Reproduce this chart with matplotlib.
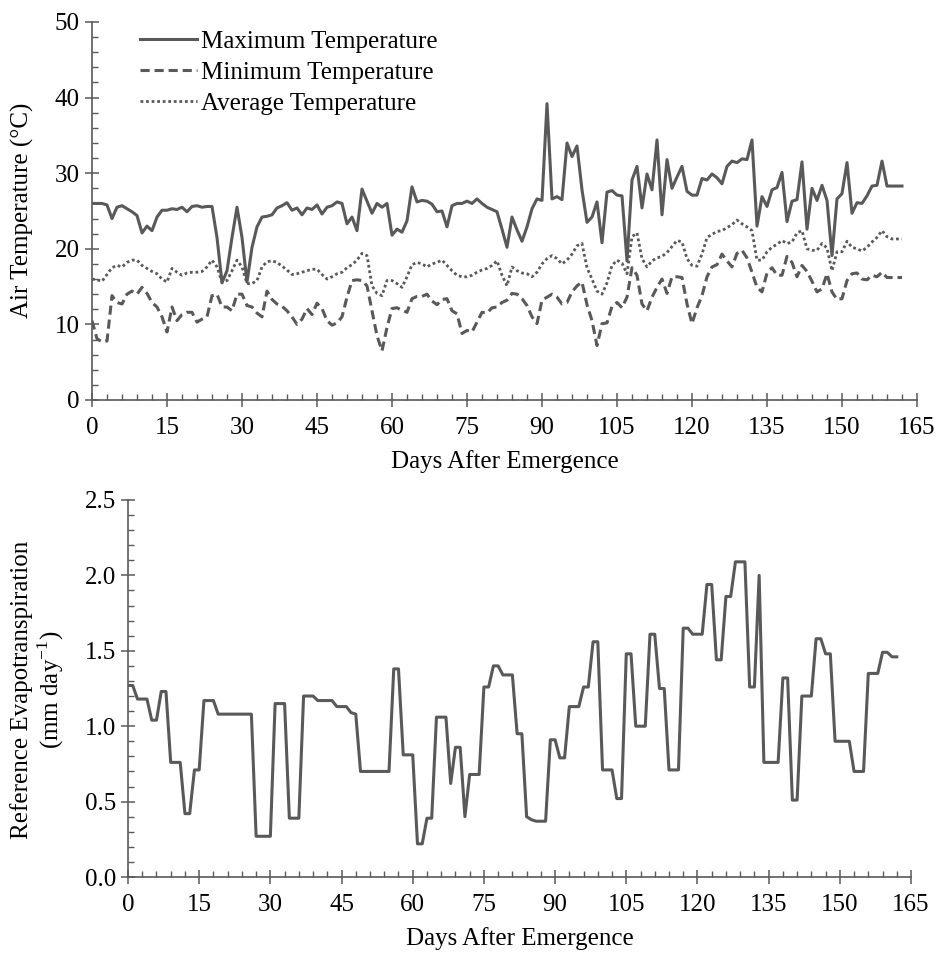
import matplotlib
matplotlib.use("Agg")
import matplotlib.pyplot as plt
from matplotlib.ticker import MultipleLocator, FormatStrFormatter

plt.rcParams['font.family'] = ['Liberation Serif', 'DejaVu Serif']
plt.rcParams['mathtext.fontset'] = 'custom'
plt.rcParams['mathtext.rm'] = 'Liberation Serif'

days = list(range(0, 163))

t_max = [26.0, 26.0, 26.0, 25.8, 24.0, 25.5, 25.7, 25.3, 24.9, 24.4,
         22.1, 23.0, 22.4, 24.2, 25.1, 25.1, 25.3, 25.2, 25.5, 24.9,
         25.6, 25.7, 25.5, 25.6, 25.6, 21.5, 15.5, 17.1, 21.5, 25.5,
         21.5, 15.6, 20.2, 22.9, 24.2, 24.3, 24.5, 25.4, 25.7, 26.1,
         25.1, 25.4, 24.5, 25.4, 25.2, 25.8, 24.6, 25.5, 25.7, 26.2,
         26.0, 23.3, 24.2, 22.4, 27.9, 26.3, 24.7, 26.0, 25.5, 26.0,
         21.8, 22.6, 22.2, 23.7, 28.2, 26.2, 26.4, 26.3, 25.9, 24.9,
         25.0, 22.9, 25.7, 26.0, 26.0, 26.3, 26.0, 26.6, 26.0, 25.5,
         25.2, 24.9, 22.6, 20.2, 24.2, 22.5, 21.0, 22.9, 25.3, 26.6,
         26.4, 39.2, 26.6, 26.9, 26.5, 34.0, 32.2, 33.6, 27.8, 23.5,
         24.2, 26.2, 20.8, 27.5, 27.7, 27.1, 27.0, 18.4, 29.1, 30.9,
         25.4, 29.9, 27.8, 34.4, 24.5, 31.8, 28.0, 29.5, 30.9, 27.6,
         27.1, 27.1, 29.3, 29.1, 29.9, 29.4, 28.6, 30.9, 31.6, 31.4,
         31.9, 31.8, 34.4, 23.0, 26.9, 25.6, 27.8, 28.1, 30.1, 23.6,
         26.3, 26.5, 31.5, 22.6, 28.0, 26.4, 28.4, 26.4, 19.1, 26.6,
         27.3, 31.4, 24.7, 26.1, 26.0, 27.0, 28.3, 28.4, 31.6, 28.3,
         28.3, 28.3, 28.3]

t_min = [10.5, 8.1, 7.7, 7.8, 13.8, 12.9, 12.7, 14.0, 14.4, 14.0,
         14.9, 14.1, 12.9, 12.3, 11.0, 9.0, 12.3, 10.5, 11.3, 11.6,
         11.6, 10.3, 10.7, 11.0, 13.8, 14.0, 12.3, 12.3, 11.8, 14.0,
         14.0, 12.5, 12.3, 11.5, 11.0, 14.4, 13.3, 12.7, 12.4, 11.8,
         11.0, 10.0, 10.7, 12.1, 11.3, 12.8, 12.1, 10.5, 9.9, 10.2,
         11.0, 13.6, 15.8, 15.9, 15.8, 15.1, 11.8, 8.5, 6.5, 9.6,
         12.1, 12.2, 11.9, 11.6, 13.4, 13.7, 13.7, 14.0, 13.1, 12.6,
         13.3, 13.4, 11.8, 11.4, 8.8, 9.2, 9.0, 10.3, 11.6, 11.5,
         12.2, 12.3, 12.9, 13.2, 14.1, 14.0, 13.4, 12.5, 11.0, 10.1,
         13.2, 13.6, 14.0, 13.6, 12.7, 12.9, 14.3, 15.1, 15.6, 12.6,
         10.5, 7.2, 10.1, 10.2, 12.4, 12.9, 12.2, 13.6, 17.5, 16.5,
         12.7, 11.8, 13.6, 14.9, 16.0, 14.1, 16.3, 16.3, 16.2, 12.7,
         10.1, 12.2, 13.8, 16.3, 17.6, 17.9, 19.3, 18.4, 17.6, 19.4,
         19.8, 18.8, 16.9, 14.9, 14.3, 16.8, 17.5, 16.5, 16.5, 19.0,
         18.2, 16.3, 17.8, 17.0, 15.7, 14.3, 14.7, 16.7, 14.3, 13.3,
         13.4, 15.8, 16.7, 16.8, 16.0, 15.9, 16.5, 16.3, 16.9, 16.2,
         16.2, 16.2, 16.2]

t_avg = [16.0, 15.9, 15.7, 16.6, 17.5, 17.8, 17.6, 18.2, 18.5, 18.5,
         17.8, 17.4, 17.0, 16.7, 16.0, 15.6, 17.4, 16.9, 16.5, 16.8,
         16.9, 16.9, 17.0, 17.6, 18.5, 17.6, 15.6, 15.8, 17.1, 18.5,
         17.6, 15.4, 15.4, 15.8, 17.6, 18.3, 18.4, 18.2, 17.7, 17.2,
         16.6, 16.7, 16.9, 17.1, 17.3, 17.3, 16.6, 16.0, 16.3, 16.7,
         16.9, 17.5, 17.9, 18.5, 19.4, 19.1, 15.1, 14.1, 13.8, 15.8,
         15.8, 15.4, 14.9, 16.3, 17.9, 18.2, 18.0, 17.6, 18.0, 18.2,
         18.5, 17.8, 17.1, 16.5, 16.3, 16.3, 16.5, 16.9, 17.2, 17.4,
         17.8, 18.4, 16.5, 15.1, 17.6, 17.1, 16.8, 16.7, 16.3, 16.9,
         18.0, 18.7, 19.1, 18.7, 18.0, 18.5, 19.3, 20.4, 20.7, 17.5,
         16.0, 14.4, 14.0, 15.5, 17.8, 18.5, 18.1, 16.7, 21.6, 22.1,
         18.7, 17.6, 18.4, 18.8, 19.0, 19.5, 20.3, 21.1, 20.9, 18.7,
         17.8, 17.7, 19.3, 21.5, 21.9, 22.3, 22.4, 22.8, 23.2, 23.8,
         23.3, 22.9, 22.4, 18.5, 18.5, 19.6, 20.2, 20.6, 21.1, 20.7,
         20.9, 22.1, 22.4, 20.0, 19.8, 19.8, 20.7, 20.1, 17.1, 19.6,
         19.6, 21.0, 20.2, 20.0, 19.7, 20.2, 20.9, 21.5, 22.4, 21.6,
         21.3, 21.3, 21.3]

et0 = [1.27, 1.27, 1.18, 1.18, 1.18, 1.04, 1.04, 1.23, 1.23, 0.76,
       0.76, 0.76, 0.42, 0.42, 0.71, 0.71, 1.17, 1.17, 1.17, 1.08,
       1.08, 1.08, 1.08, 1.08, 1.08, 1.08, 1.08, 0.27, 0.27, 0.27,
       0.27, 1.15, 1.15, 1.15, 0.39, 0.39, 0.39, 1.20, 1.20, 1.20,
       1.17, 1.17, 1.17, 1.17, 1.13, 1.13, 1.13, 1.09, 1.08, 0.70,
       0.70, 0.70, 0.70, 0.70, 0.70, 0.70, 1.38, 1.38, 0.81, 0.81,
       0.81, 0.22, 0.22, 0.39, 0.39, 1.06, 1.06, 1.06, 0.62, 0.86,
       0.86, 0.40, 0.68, 0.68, 0.68, 1.26, 1.26, 1.40, 1.40, 1.34,
       1.34, 1.34, 0.95, 0.95, 0.40, 0.38, 0.37, 0.37, 0.37, 0.91,
       0.91, 0.79, 0.79, 1.13, 1.13, 1.13, 1.26, 1.26, 1.56, 1.56,
       0.71, 0.71, 0.71, 0.52, 0.52, 1.48, 1.48, 1.00, 1.00, 1.00,
       1.61, 1.61, 1.25, 1.25, 0.71, 0.71, 0.71, 1.65, 1.65, 1.61,
       1.61, 1.61, 1.94, 1.94, 1.44, 1.44, 1.86, 1.86, 2.09, 2.09,
       2.09, 1.26, 1.26, 2.00, 0.76, 0.76, 0.76, 0.76, 1.32, 1.32,
       0.51, 0.51, 1.20, 1.20, 1.20, 1.58, 1.58, 1.48, 1.48, 0.90,
       0.90, 0.90, 0.90, 0.70, 0.70, 0.70, 1.35, 1.35, 1.35, 1.49,
       1.49, 1.46, 1.46]

x_ticks = [0, 15, 30, 45, 60, 75, 90, 105, 120, 135, 150, 165]

LINE = '#595959'
AXC = '#595959'
FS = 18

W, H = 936, 955
fig = plt.figure(figsize=(W / 100, H / 100), dpi=100)
fig.patch.set_facecolor('white')

def style(ax):
    for s in ['top', 'right']:
        ax.spines[s].set_visible(False)
    for s in ['left', 'bottom']:
        ax.spines[s].set_color(AXC)
        ax.spines[s].set_linewidth(1.2)
    ax.tick_params(which='major', direction='inout', length=9.5, width=1.1,
                   color=AXC, labelsize=FS)
    ax.tick_params(axis='x', which='major', pad=7.5)
    ax.tick_params(axis='y', which='major', pad=4)
    ax.tick_params(which='minor', direction='in', length=4.5, width=1.0, color=AXC)
    ax.set_xticks(x_ticks)
    ax.xaxis.set_minor_locator(MultipleLocator(3))
    ax.set_xlim(0, 165)

# top panel
ax1 = fig.add_axes([92 / W, 1 - 400 / H, (917 - 92) / W, (400 - 22) / H])
style(ax1)
ax1.plot(days, t_max, color=LINE, lw=2.2, ls='-', label='Maximum Temperature')
ax1.plot(days, t_min, color=LINE, lw=2.2, ls=(0, (3, 1.6)), label='Minimum Temperature')
ax1.plot(days, t_avg, color=LINE, lw=2.0, ls=(0, (1, 1.0)), label='Average Temperature')
ax1.set_ylim(0, 50)
ax1.yaxis.set_major_locator(MultipleLocator(10))
ax1.yaxis.set_minor_locator(MultipleLocator(2))
ax1.set_xlabel('Days After Emergence', fontsize=FS, labelpad=8)
leg = ax1.legend(loc='upper left', bbox_to_anchor=(0.058, 0.977), frameon=False,
                 fontsize=FS, handlelength=2.3, handletextpad=0.15,
                 labelspacing=0.33, borderaxespad=0, borderpad=0)
fig.text(22 / W, 1 - 210 / H, 'Air Temperature (°C)', rotation=90,
         ha='center', va='center', fontsize=FS)

# bottom panel
ax2 = fig.add_axes([128 / W, 1 - 877 / H, (911 - 128) / W, (877 - 500) / H])
style(ax2)
ax2.plot(days, et0, color=LINE, lw=2.2)
ax2.set_ylim(0, 2.5)
ax2.yaxis.set_major_locator(MultipleLocator(0.5))
ax2.yaxis.set_minor_locator(MultipleLocator(0.1))
ax2.yaxis.set_major_formatter(FormatStrFormatter('%.1f'))
ax2.set_xlabel('Days After Emergence', fontsize=FS, labelpad=8)
fig.text(38 / W, 1 - 690 / H, 'Reference Evapotranspiration\n(mm day$^{-1}$)',
         rotation=90, ha='center', va='center', ma='center',
         fontsize=FS, linespacing=1.1)

fig.savefig('out.png', dpi=100, facecolor='white')
